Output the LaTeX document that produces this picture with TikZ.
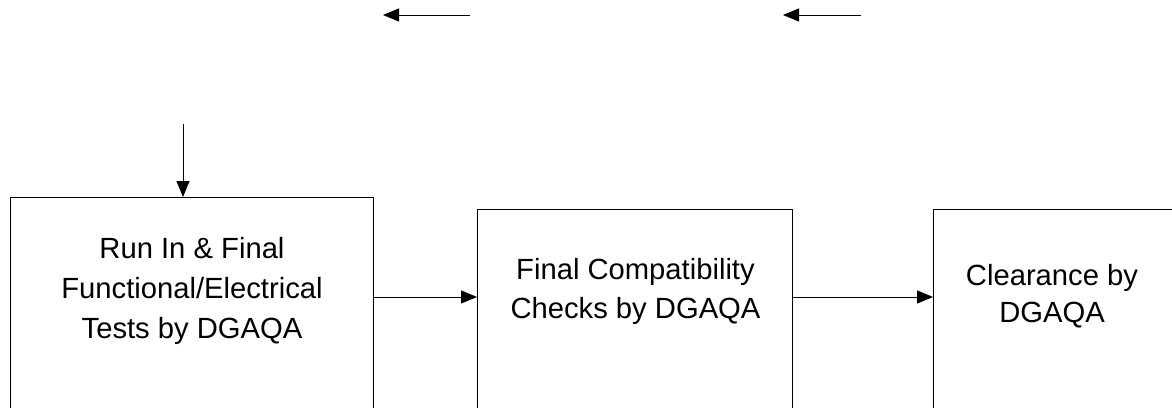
\documentclass[tikz,border=0pt]{standalone}
\usepackage{fontspec}
\setmainfont{Liberation Sans}
\usetikzlibrary{arrows.meta}

\begin{document}
\begin{tikzpicture}[x=0.5pt, y=-0.5pt, line width=0.5pt,
		>={Triangle[length=8pt, width=6.5pt]}]

		%描画範囲(下と右は切れている)
		\useasboundingbox (0, 0) rectangle (1172, 407);
		\clip (0, 0) rectangle (1172, 407);
		\tikzset{
			styleBox/.style={
				draw, rectangle, anchor=north west,
				minimum height=140pt, inner sep=0pt
			},		%箱は下まで伸ばす
			styleText/.style={
				align=center, inner sep=0pt
			}
		};
		%ループで箱を書く
		\foreach 
			\boxName/\boxX/\boxY/\boxWidth in {
				1/10/197/181.5, 2/477/209/157.5, 3/933/209/122.5 } {
			\node [styleBox, minimum width=\boxWidth pt] (box\boxName) at (\boxX, \boxY) {};
		}

		%箱の中の文字
		\node [styleText, font=\fontsize{14.6}{20}\selectfont] (text1) at (192, 291)
			{Run In \& Final\\Functional/Electrical\\Tests by DGAQA};
		\node [styleText, font=\fontsize{14.6}{19.5}\selectfont] (text2) at (635.5, 291)
			{Final Compatibility\\Checks by DGAQA};
		\node [styleText, font=\fontsize{14.6}{18.5}\selectfont] (text3) at (1052, 296)
			{Clearance by\\DGAQA};

		%箱の間の矢印
		\coordinate (flow) at (0, 297);
		\draw[->] (box1.east |- flow) -- (box2.west |- flow);
		\draw[->] (box2.east |- flow) -- (box3.west |- flow);

		%上から入る矢印
		\coordinate (inTop) at (183, 124);
		\draw[->] (inTop) -- (inTop |- box1.north);

		%上の左向き矢印
		\foreach \arrowName/\startX/\endX in {a/470/383, b/861/783} {
			\coordinate (start\arrowName) at (\startX, 15);
			\coordinate (end\arrowName) at (\endX, 15);
			\draw[->] (start\arrowName) -- (end\arrowName);
		}

	\end{tikzpicture}
\end{document}
